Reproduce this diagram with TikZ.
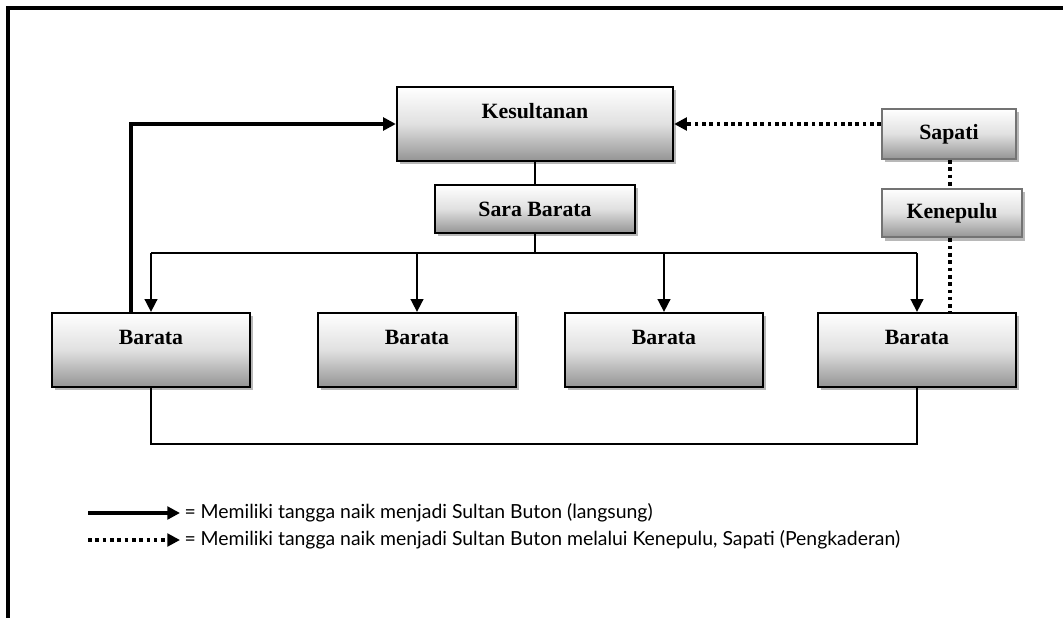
\documentclass[tikz,border=0pt]{standalone}
\usepackage{fontspec}
\setmainfont{Liberation Serif}
\newfontfamily\legendfont{Lato}
\usetikzlibrary{arrows.meta,shadows,positioning}

\begin{document}
\begin{tikzpicture}[
    x=0.025cm, y=-0.025cm,
    box/.style      = {draw=black, line width=1.6pt, top color=white, bottom color=black!42,
                       middle color=black!12,
                       font=\fontsize{15.5}{18}\selectfont\bfseries,
                       drop shadow={shadow xshift=2.4pt, shadow yshift=-2.4pt,
                                    fill=black!28, opacity=1}},
    bigbox/.style   = {box, text height=0.36cm, text depth=0.62cm},
    greybox/.style  = {box, draw=black!55, line width=1.3pt},
    conn/.style     = {line width=1.2pt},
    down/.style     = {conn, -{Triangle[length=9pt, width=9pt]}},
    direct/.style   = {line width=2.3pt, -{Triangle[length=9pt, width=9pt]}},
    via/.style      = {line width=2.2pt, dash pattern=on 2.6pt off 2.6pt},
    via-arrow/.style= {via, -{Triangle[length=9pt, width=9pt]}},
    legend/.style   = {font=\legendfont\fontsize{13.8}{16}\selectfont, anchor=west,
                       inner sep=3pt}
  ]

% frame (only its top and left edge fall inside the page)
\clip (0,0) rectangle (1063,617);
\draw[line width=2.8pt] (8,640) -- (8,8) -- (1080,8);

% =========================================================
% Top: Kesultanan, Sara Barata, Sapati, Kenepulu
% =========================================================
\node[bigbox, minimum width=6.9cm, minimum height=1.85cm] (kesultanan) at (535,124) {Kesultanan};
\node[box, minimum width=5.0cm, minimum height=1.2cm] (sarabarata) at (535,209) {Sara Barata};
\node[greybox, minimum width=3.35cm, minimum height=1.25cm] (sapati) at (949,134) {Sapati};
\node[greybox, minimum width=3.5cm, minimum height=1.22cm] (kenepulu) at (952,213) {Kenepulu};

% =========================================================
% Row of Barata
% =========================================================
\foreach \name/\x in {b1/151, b2/417, b3/664, b4/917}
  \node[bigbox, minimum width=4.95cm, minimum height=1.85cm] (\name) at (\x,350) {Barata};

\coordinate (bus) at (535,253);
\coordinate (base) at (535,444);

% connectors
\draw[conn] (kesultanan.south) -- (sarabarata.north);
\draw[conn] (sarabarata.south) -- (bus);
\draw[conn] (b1.north |- bus) -- (b4.north |- bus);
\foreach \name in {b1,b2,b3,b4}
  \draw[down] (\name.north |- bus) -- (\name.north);
\draw[conn] (b1.south) -- (b1.south |- base) -- (b4.south |- base) -- (b4.south);

% routes to the sultanate
\draw[direct] ([xshift=-0.5cm]b1.north) |- (kesultanan.west);
\draw[via-arrow] (sapati.west |- kesultanan.east) -- (kesultanan.east);
\draw[via] (sapati.south -| 950,0) -- (kenepulu.north -| 950,0);
\draw[via] (kenepulu.south -| 950,0) -- (b4.north -| 950,0);

% =========================================================
% Legend
% =========================================================
\node[legend] (legdirect) at (180,513) {= Memiliki tangga naik menjadi Sultan Buton (langsung)};
\node[legend] (legvia) at (180,540) {= Memiliki tangga naik menjadi Sultan Buton melalui Kenepulu, Sapati (Pengkaderan)};
\coordinate (legdirectstart) at (88,513);
\coordinate (legviastart) at (88,540);
\draw[direct] (legdirectstart) -- (legdirect.west);
\draw[via-arrow] (legviastart) -- (legvia.west);

\end{tikzpicture}
\end{document}
